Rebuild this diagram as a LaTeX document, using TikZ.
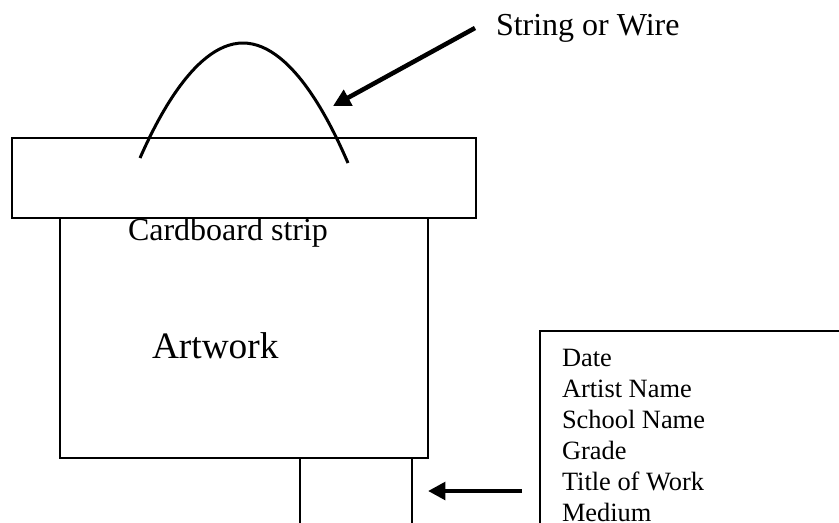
\documentclass[tikz,border=0pt]{standalone}
\usepackage{fontspec}
\setmainfont{Liberation Serif}
\usetikzlibrary{arrows.meta}

\def\px{0.75pt}

\begin{document}
\begin{tikzpicture}[x=\px,y=-\px,line width=1.5pt]
    \tikzstyle{panel}=[draw=black,line width=1.5pt,anchor=north west,inner sep=0pt,outer sep=0pt]
    \tikzstyle{words}=[anchor=base west,inner sep=0pt,font=\fontsize{24pt}{28pt}\selectfont]
    \tikzstyle{pointer}=[line width=3.4pt,-{Triangle[length=13pt,width=13pt]}]

    \useasboundingbox (0,0) rectangle (839,522);

    \node[panel,minimum width=464*\px,minimum height=80*\px] (strip) at (12,138) {};
    \node[panel,minimum width=368*\px,minimum height=240*\px] (artwork) at (60,218) {};
    \node[panel,minimum width=112*\px,minimum height=90*\px] (leg) at (300,458) {};
    \node[panel,minimum width=330*\px,minimum height=220*\px] (infobox) at (540,331) {};

    \draw[line width=2.25pt] (140,158) parabola bend (243,43) (348,163);

    \node[words] (wirelabel) at (495,35) {String or Wire};
    \node[words] (striplabel) at (127,240) {Cardboard strip};
    \node[words,font=\fontsize{28pt}{33pt}\selectfont] (artlabel) at (151,358) {Artwork};
    \foreach \entry [count=\i from 0] in {Date,Artist Name,School Name,Grade,Title of Work,Medium}
        \node[words,font=\fontsize{19.8pt}{23pt}\selectfont] (info\i) at (561,{366+31*\i}) {\entry};

    \coordinate (wiretail) at (475,28);
    \coordinate (wiretip) at (333,106);
    \draw[pointer] (wiretail) -- (wiretip);

    \coordinate (tagtail) at (522,491);
    \coordinate (tagtip) at (428,491);
    \draw[pointer] (tagtail) -- (tagtip);
\end{tikzpicture}
\end{document}
